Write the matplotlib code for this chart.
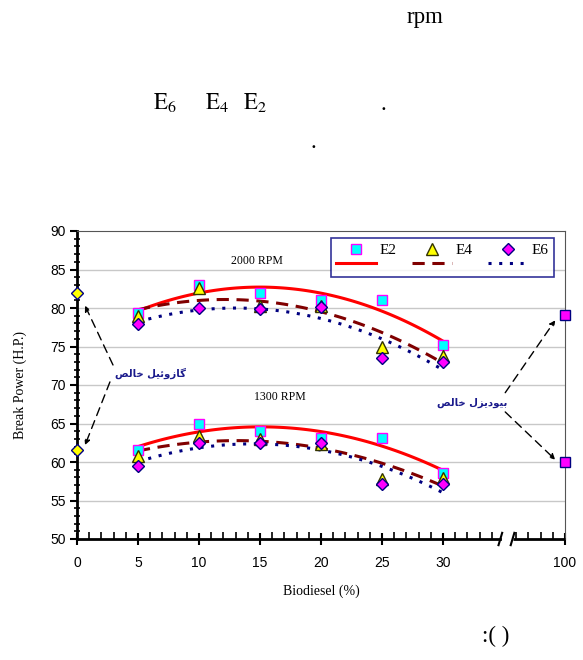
import matplotlib
matplotlib.use("Agg")
import matplotlib.pyplot as plt
from matplotlib.lines import Line2D
import numpy as np

plt.rcParams['font.family'] = ['Liberation Sans', 'DejaVu Sans']
plt.rcParams['mathtext.fontset'] = 'stix'

# biodiesel share (%) of the blends
blend = [5, 10, 15, 20, 25, 30]

# 2000 rpm
e2_2000 = [79.3, 83.0, 82.0, 81.0, 81.0, 75.2]
e4_2000 = [78.9, 82.6, 80.3, 80.3, 74.9, 73.8]
e6_2000 = [77.9, 80.0, 79.9, 80.1, 73.5, 73.0]

# 1300 rpm
e2_1300 = [61.6, 65.0, 64.0, 63.1, 63.1, 58.6]
e4_1300 = [60.8, 63.4, 63.0, 62.3, 57.8, 57.9]
e6_1300 = [59.5, 62.5, 62.5, 62.5, 57.1, 57.1]

# pure fuels: diesel (0 %) and biodiesel (100 %)
diesel_x = [0, 0]
diesel_y = [82.0, 61.5]
bio_x = [100, 100]
bio_y = [79.1, 60.0]

xticks = [0, 5, 10, 15, 20, 25, 30, 100]


def xpos(v):
    # axis is broken after 30: 100 sits where 40 would be
    v = np.asarray(v, dtype=float)
    return np.where(v >= 100, 40.0, v)


W, H = 583, 660
fig = plt.figure(figsize=(W / 100, H / 100), dpi=100)
ax = fig.add_axes([77 / W, 1 - 539 / H, (565 - 77) / W, (539 - 231) / H])
ax.set_xlim(0, 40)
ax.set_ylim(50, 90)

# grid
for g in [55, 60, 65, 70, 75, 80, 85]:
    ax.axhline(g, color='#c8c8c8', lw=1, zorder=0)

styles = {
    'E2': dict(marker='s', mfc='#00FFFF', mec='#FF00FF', ms=6.5, lc='#FF0000', ls='-'),
    'E4': dict(marker='^', mfc='#FFFF00', mec='#333300', ms=8.5, lc='#800000', ls=(0, (4, 2.5))),
    'E6': dict(marker='D', mfc='#FF00FF', mec='#000080', ms=6.5, lc='#000080', ls=(0, (1, 2.5))),
}
series = [('E2', e2_2000, e2_1300), ('E4', e4_2000, e4_1300), ('E6', e6_2000, e6_1300)]

xs = np.array(blend, dtype=float)
xf = np.linspace(5, 30, 100)
handles, labels = [], []
for name, y2000, y1300 in series:
    st = styles[name]
    for ys in (y2000, y1300):
        c = np.polyfit(xs, ys, 2)
        ax.plot(xf, np.polyval(c, xf), color=st['lc'], ls=st['ls'], lw=2.2, zorder=2)
    for ys in (y2000, y1300):
        ax.plot(xs, ys, ls='none', marker=st['marker'], mfc=st['mfc'], mec=st['mec'],
                ms=st['ms'], mew=1, zorder=3)
    handles.append(Line2D([], [], ls='none', marker=st['marker'], mfc=st['mfc'],
                          mec=st['mec'], ms=st['ms'], mew=1))
    labels.append(name)
    handles.append(Line2D([], [], color=st['lc'], ls=st['ls'], lw=2.2))
    labels.append('')

ax.plot(xpos(diesel_x), diesel_y, ls='none', marker='D', mfc='#FFFF00', mec='#000080',
        ms=6.5, mew=1, zorder=4, clip_on=False)
ax.plot(xpos(bio_x), bio_y, ls='none', marker='s', mfc='#FF00FF', mec='#000080',
        ms=6.5, mew=1, zorder=4, clip_on=False)

leg = ax.legend(handles, labels, ncol=3, loc='upper right', bbox_to_anchor=(0.977, 0.977),
                prop={'family': 'Liberation Serif', 'size': 11}, frameon=True, fancybox=False,
                edgecolor='#000080', handlelength=2.6, columnspacing=1.0, handletextpad=0.25,
                borderpad=0.35, labelspacing=0.05, borderaxespad=0)
leg.get_frame().set_linewidth(1.2)

# curve labels
serif = dict(family='Liberation Serif', size=8.5)
ax.text(14.75, 86.1, '2000 RPM', ha='center', va='center', **serif)
ax.text(16.6, 68.4, '1300 RPM', ha='center', va='center', **serif)

# pure fuel notes
fa = dict(family='DejaVu Sans', size=7.3, weight='bold', color='#1a1a8c')
diesel_txt = '\uFEBA\uFEDF\uFE8E\uFEA7 \uFEDE\uFBFF\uFE8B\uFEED\uFEAF\uFE8E\uFB94'
bio_txt = '\uFEBA\uFEDF\uFE8E\uFEA7 \uFEDD\uFEB0\uFBFE\uFEA9\uFEEE\uFBFF\uFE91'
ax.text(6.0, 71.5, diesel_txt, ha='center', va='center', **fa)
ax.text(32.4, 67.7, bio_txt, ha='center', va='center', **fa)

arr = dict(arrowstyle='-|>', color='black', lw=1, ls=(0, (6, 4)), mutation_scale=8,
           shrinkA=0, shrinkB=0)
ax.annotate('', xy=(0.66, 80.3), xytext=(2.95, 72.6), arrowprops=arr, annotation_clip=False)
ax.annotate('', xy=(0.66, 62.2), xytext=(2.7, 70.4), arrowprops=arr, annotation_clip=False)
ax.annotate('', xy=(39.2, 78.4), xytext=(35.1, 69.0), arrowprops=arr, annotation_clip=False)
ax.annotate('', xy=(39.2, 60.3), xytext=(35.1, 66.5), arrowprops=arr, annotation_clip=False)

# axes
ax.set_xticks(xpos(xticks))
ax.set_xticklabels([str(t) for t in xticks], fontsize=10)
ax.set_xticks(list(range(1, 35)) + [36, 37, 38, 39], minor=True)
ax.set_yticks(range(50, 91, 5))
ax.set_yticks(range(50, 91, 1), minor=True)
ax.tick_params(axis='y', which='major', direction='out', length=5, width=1.5, labelsize=10, pad=3)
ax.tick_params(axis='y', which='minor', direction='inout', length=5, width=1.2)
ax.tick_params(axis='x', which='major', direction='inout', length=9, width=1.5, labelsize=10, pad=8)
ax.tick_params(axis='x', which='minor', direction='in', length=5, width=1.2)

ax.spines['left'].set_linewidth(2)
ax.spines['bottom'].set_linewidth(2)
ax.spines['bottom'].set_bounds(0, 34.7)
ax.spines['top'].set_color('#555555')
ax.spines['top'].set_linewidth(0.8)
ax.spines['right'].set_color('#555555')
ax.spines['right'].set_linewidth(0.8)
ax.plot([35.7, 40], [50, 50], color='black', lw=2, clip_on=False, zorder=5,
        solid_capstyle='butt')
for bx in (34.7, 35.7):
    ax.plot([bx - 0.15, bx + 0.15], [49.2, 50.8], color='black', lw=1.5, clip_on=False, zorder=5)

ax.set_xlabel('Biodiesel (%)', family='Liberation Serif', fontsize=10, labelpad=10)
ax.set_ylabel('Break Power (H.P.)', family='Liberation Serif', fontsize=10, labelpad=17)

# page text around the figure
page = dict(family='Liberation Serif', size=16.5, ha='center', va='center')
fig.text(425 / W, 1 - 18 / H, 'rpm', **page)
fig.text(165 / W, 1 - 103 / H, r'$\mathrm{E}_6$', **page)
fig.text(217 / W, 1 - 103 / H, r'$\mathrm{E}_4$', **page)
fig.text(255 / W, 1 - 103 / H, r'$\mathrm{E}_2$', **page)
fig.text(383 / W, 1 - 104 / H, '.', **page)
fig.text(313 / W, 1 - 143 / H, '.', **page)
fig.text(496 / W, 1 - 636 / H, ':( )', **page)

fig.savefig('out.png', dpi=100)
